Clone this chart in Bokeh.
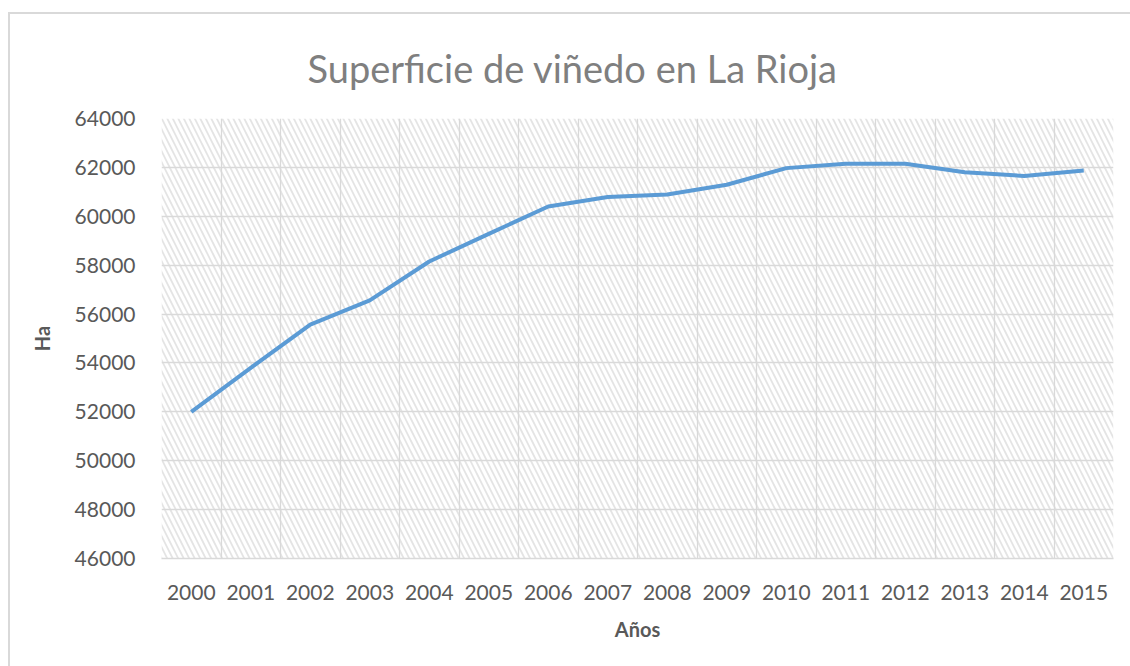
from bokeh.plotting import figure
from bokeh.models import FixedTicker, BoxAnnotation, Range1d, Title, InlineStyleSheet
from bokeh.embed import file_html
from bokeh.resources import INLINE

years = list(range(2000, 2016))
hectares = [52000, 53800, 55570, 56560, 58150, 59280, 60400, 60790,
            60890, 61290, 61970, 62150, 62150, 61800, 61650, 61870]
y_ticks = list(range(46000, 64001, 2000))
title_text = "Superficie de viñedo en La Rioja"
x_title = "Años"
y_title = "Ha"

FONT = "Lato"
GRAY = "#595959"
GRID = "#d9d9d9"

frame_css = InlineStyleSheet(css="""
:host { position: relative; }
:host::after {
  content: ''; position: absolute; left: 8px; top: 12px;
  width: calc(100% - 8px); height: calc(100% - 12px);
  border-left: 2px solid #d9d9d9; border-top: 2px solid #d9d9d9;
  box-sizing: border-box; pointer-events: none;
}
""")

p = figure(width=1130, height=666, output_backend="svg", toolbar_location=None,
           x_range=Range1d(years[0] - 0.5, years[-1] + 0.5),
           y_range=Range1d(y_ticks[0], y_ticks[-1]),
           min_border_left=161, min_border_right=17,
           min_border_top=118, min_border_bottom=108)
p.stylesheets = [frame_css]
p.title = Title(text=title_text, align="left", offset=146,
                text_font=FONT, text_font_size="38px", text_font_style="normal",
                text_color="#7f7f7f", standoff=55)
p.outline_line_color = None
p.background_fill_color = "white"
p.border_fill_color = "white"

# hatched plot area
hatch = BoxAnnotation(fill_alpha=0, line_color=None, hatch_pattern="\\",
                      hatch_color="#e4e4e4", hatch_scale=11, hatch_weight=1.8,
                      level="image")
p.add_layout(hatch)

p.xaxis.ticker = FixedTicker(ticks=years)
p.xgrid.ticker = FixedTicker(ticks=[y - 0.5 for y in years] + [years[-1] + 0.5])
p.yaxis.ticker = FixedTicker(ticks=y_ticks)
p.xgrid.grid_line_color = GRID
p.ygrid.grid_line_color = GRID
p.xgrid.grid_line_width = 1.3
p.ygrid.grid_line_width = 1.3

for ax in (p.xaxis[0], p.yaxis[0]):
    ax.major_tick_line_color = None
    ax.minor_tick_line_color = None
    ax.major_label_text_font = FONT
    ax.major_label_text_font_size = "21px"
    ax.major_label_text_color = GRAY
    ax.axis_label_text_font = FONT
    ax.axis_label_text_font_size = "20px"
    ax.axis_label_text_font_style = "bold"
    ax.axis_label_text_color = GRAY
p.xaxis.axis_line_color = GRID
p.xaxis.axis_line_width = 1.5
p.yaxis.axis_line_color = None
p.xaxis.major_label_standoff = 20
p.yaxis.major_label_standoff = 20
p.xaxis.axis_label = x_title
p.yaxis.axis_label = y_title
p.xaxis.axis_label_standoff = 14
p.yaxis.axis_label_standoff = 18

p.line(years, hectares, line_color="#5B9BD5", line_width=4, line_join="round")

open("out.html", "w").write(file_html(p, INLINE))
